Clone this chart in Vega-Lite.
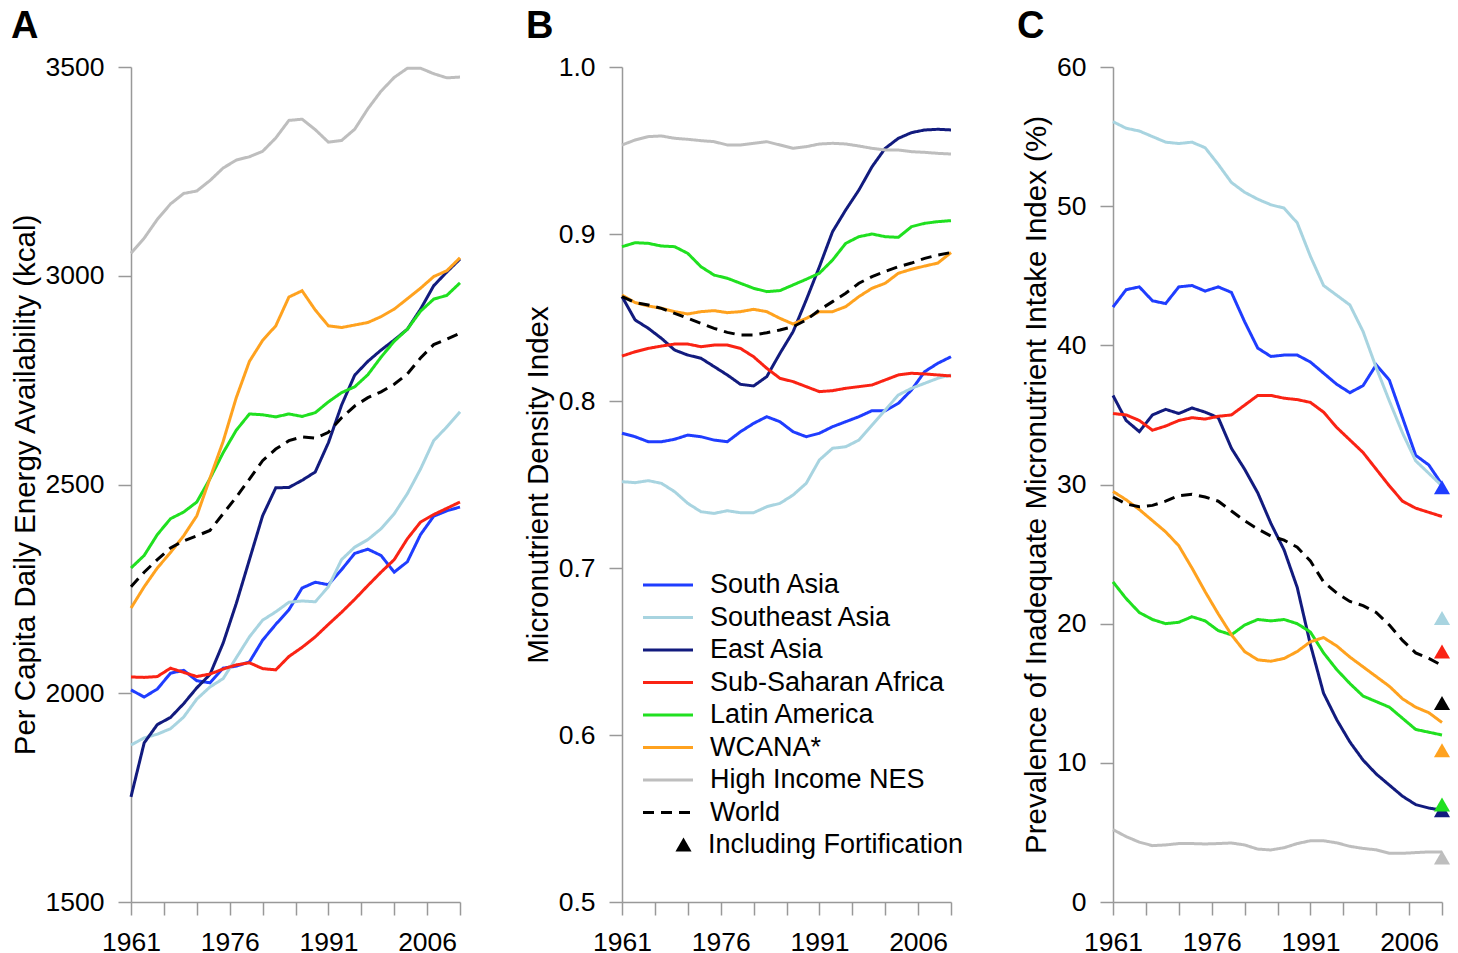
{
"$schema": "https://vega.github.io/schema/vega-lite/v6.json",
"background": "white",
"padding": {"left": 10, "top": 8, "right": 5, "bottom": 0},
"config": {
  "font": "Liberation Sans",
  "view": {"stroke": null},
  "axis": {"grid": false, "domainColor": "#999999", "domainWidth": 1.5, "tickColor": "#999999", "tickWidth": 1.5, "tickSize": 13, "labelFontSize": 26.5, "labelColor": "#000000", "labelFont": "Liberation Sans", "titleFont": "Liberation Sans", "titleFontSize": 29.5, "titleFontWeight": "normal", "titleColor": "#000000", "labelOverlap": false, "labelFlush": false},
  "axisX": {"labelPadding": 14, "labelOverlap": false},
  "axisY": {"labelPadding": 14, "titlePadding": 5},
  "legend": {"labelFont": "Liberation Sans", "labelColor": "#000000"},
  "title": {"anchor": "start", "frame": "group", "fontSize": 38, "fontWeight": "bold", "color": "#000000", "offset": 8, "font": "Liberation Sans"}
},
"datasets": {
"energy": [
{"year":1961,"region":"South Asia","value":2008},{"year":1963,"region":"South Asia","value":1991},{"year":1965,"region":"South Asia","value":2010},{"year":1967,"region":"South Asia","value":2048},{"year":1969,"region":"South Asia","value":2055},{"year":1971,"region":"South Asia","value":2030},{"year":1973,"region":"South Asia","value":2025},{"year":1975,"region":"South Asia","value":2060},{"year":1977,"region":"South Asia","value":2065},{"year":1979,"region":"South Asia","value":2075},{"year":1981,"region":"South Asia","value":2127},{"year":1983,"region":"South Asia","value":2165},{"year":1985,"region":"South Asia","value":2200},{"year":1987,"region":"South Asia","value":2252},{"year":1989,"region":"South Asia","value":2266},{"year":1991,"region":"South Asia","value":2260},{"year":1993,"region":"South Asia","value":2296},{"year":1995,"region":"South Asia","value":2335},{"year":1997,"region":"South Asia","value":2345},{"year":1999,"region":"South Asia","value":2330},{"year":2001,"region":"South Asia","value":2290},{"year":2003,"region":"South Asia","value":2315},{"year":2005,"region":"South Asia","value":2380},{"year":2007,"region":"South Asia","value":2424},{"year":2009,"region":"South Asia","value":2437},{"year":2011,"region":"South Asia","value":2446},
{"year":1961,"region":"Southeast Asia","value":1876},{"year":1963,"region":"Southeast Asia","value":1893},{"year":1965,"region":"Southeast Asia","value":1902},{"year":1967,"region":"Southeast Asia","value":1915},{"year":1969,"region":"Southeast Asia","value":1943},{"year":1971,"region":"Southeast Asia","value":1986},{"year":1973,"region":"Southeast Asia","value":2015},{"year":1975,"region":"Southeast Asia","value":2035},{"year":1977,"region":"Southeast Asia","value":2085},{"year":1979,"region":"Southeast Asia","value":2135},{"year":1981,"region":"Southeast Asia","value":2175},{"year":1983,"region":"Southeast Asia","value":2195},{"year":1985,"region":"Southeast Asia","value":2218},{"year":1987,"region":"Southeast Asia","value":2221},{"year":1989,"region":"Southeast Asia","value":2219},{"year":1991,"region":"Southeast Asia","value":2255},{"year":1993,"region":"Southeast Asia","value":2320},{"year":1995,"region":"Southeast Asia","value":2350},{"year":1997,"region":"Southeast Asia","value":2368},{"year":1999,"region":"Southeast Asia","value":2394},{"year":2001,"region":"Southeast Asia","value":2430},{"year":2003,"region":"Southeast Asia","value":2478},{"year":2005,"region":"Southeast Asia","value":2537},{"year":2007,"region":"Southeast Asia","value":2605},{"year":2009,"region":"Southeast Asia","value":2638},{"year":2011,"region":"Southeast Asia","value":2674},
{"year":1961,"region":"East Asia","value":1752},{"year":1963,"region":"East Asia","value":1881},{"year":1965,"region":"East Asia","value":1925},{"year":1967,"region":"East Asia","value":1942},{"year":1969,"region":"East Asia","value":1975},{"year":1971,"region":"East Asia","value":2013},{"year":1973,"region":"East Asia","value":2045},{"year":1975,"region":"East Asia","value":2120},{"year":1977,"region":"East Asia","value":2215},{"year":1979,"region":"East Asia","value":2320},{"year":1981,"region":"East Asia","value":2425},{"year":1983,"region":"East Asia","value":2492},{"year":1985,"region":"East Asia","value":2493},{"year":1987,"region":"East Asia","value":2510},{"year":1989,"region":"East Asia","value":2530},{"year":1991,"region":"East Asia","value":2600},{"year":1993,"region":"East Asia","value":2690},{"year":1995,"region":"East Asia","value":2762},{"year":1997,"region":"East Asia","value":2795},{"year":1999,"region":"East Asia","value":2822},{"year":2001,"region":"East Asia","value":2846},{"year":2003,"region":"East Asia","value":2872},{"year":2005,"region":"East Asia","value":2920},{"year":2007,"region":"East Asia","value":2976},{"year":2009,"region":"East Asia","value":3009},{"year":2011,"region":"East Asia","value":3040},
{"year":1961,"region":"Sub-Saharan Africa","value":2039},{"year":1963,"region":"Sub-Saharan Africa","value":2038},{"year":1965,"region":"Sub-Saharan Africa","value":2040},{"year":1967,"region":"Sub-Saharan Africa","value":2060},{"year":1969,"region":"Sub-Saharan Africa","value":2050},{"year":1971,"region":"Sub-Saharan Africa","value":2040},{"year":1973,"region":"Sub-Saharan Africa","value":2046},{"year":1975,"region":"Sub-Saharan Africa","value":2058},{"year":1977,"region":"Sub-Saharan Africa","value":2068},{"year":1979,"region":"Sub-Saharan Africa","value":2073},{"year":1981,"region":"Sub-Saharan Africa","value":2059},{"year":1983,"region":"Sub-Saharan Africa","value":2056},{"year":1985,"region":"Sub-Saharan Africa","value":2088},{"year":1987,"region":"Sub-Saharan Africa","value":2110},{"year":1989,"region":"Sub-Saharan Africa","value":2135},{"year":1991,"region":"Sub-Saharan Africa","value":2165},{"year":1993,"region":"Sub-Saharan Africa","value":2194},{"year":1995,"region":"Sub-Saharan Africa","value":2225},{"year":1997,"region":"Sub-Saharan Africa","value":2258},{"year":1999,"region":"Sub-Saharan Africa","value":2290},{"year":2001,"region":"Sub-Saharan Africa","value":2320},{"year":2003,"region":"Sub-Saharan Africa","value":2370},{"year":2005,"region":"Sub-Saharan Africa","value":2410},{"year":2007,"region":"Sub-Saharan Africa","value":2428},{"year":2009,"region":"Sub-Saharan Africa","value":2443},{"year":2011,"region":"Sub-Saharan Africa","value":2458},
{"year":1961,"region":"Latin America","value":2300},{"year":1963,"region":"Latin America","value":2330},{"year":1965,"region":"Latin America","value":2380},{"year":1967,"region":"Latin America","value":2418},{"year":1969,"region":"Latin America","value":2434},{"year":1971,"region":"Latin America","value":2458},{"year":1973,"region":"Latin America","value":2514},{"year":1975,"region":"Latin America","value":2576},{"year":1977,"region":"Latin America","value":2630},{"year":1979,"region":"Latin America","value":2669},{"year":1981,"region":"Latin America","value":2667},{"year":1983,"region":"Latin America","value":2662},{"year":1985,"region":"Latin America","value":2669},{"year":1987,"region":"Latin America","value":2663},{"year":1989,"region":"Latin America","value":2672},{"year":1991,"region":"Latin America","value":2698},{"year":1993,"region":"Latin America","value":2720},{"year":1995,"region":"Latin America","value":2734},{"year":1997,"region":"Latin America","value":2763},{"year":1999,"region":"Latin America","value":2805},{"year":2001,"region":"Latin America","value":2843},{"year":2003,"region":"Latin America","value":2872},{"year":2005,"region":"Latin America","value":2915},{"year":2007,"region":"Latin America","value":2944},{"year":2009,"region":"Latin America","value":2953},{"year":2011,"region":"Latin America","value":2983},
{"year":1961,"region":"WCANA*","value":2204},{"year":1963,"region":"WCANA*","value":2255},{"year":1965,"region":"WCANA*","value":2300},{"year":1967,"region":"WCANA*","value":2337},{"year":1969,"region":"WCANA*","value":2377},{"year":1971,"region":"WCANA*","value":2425},{"year":1973,"region":"WCANA*","value":2515},{"year":1975,"region":"WCANA*","value":2603},{"year":1977,"region":"WCANA*","value":2708},{"year":1979,"region":"WCANA*","value":2795},{"year":1981,"region":"WCANA*","value":2845},{"year":1983,"region":"WCANA*","value":2880},{"year":1985,"region":"WCANA*","value":2949},{"year":1987,"region":"WCANA*","value":2964},{"year":1989,"region":"WCANA*","value":2918},{"year":1991,"region":"WCANA*","value":2880},{"year":1993,"region":"WCANA*","value":2876},{"year":1995,"region":"WCANA*","value":2882},{"year":1997,"region":"WCANA*","value":2888},{"year":1999,"region":"WCANA*","value":2902},{"year":2001,"region":"WCANA*","value":2920},{"year":2003,"region":"WCANA*","value":2945},{"year":2005,"region":"WCANA*","value":2970},{"year":2007,"region":"WCANA*","value":2998},{"year":2009,"region":"WCANA*","value":3012},{"year":2011,"region":"WCANA*","value":3043},
{"year":1961,"region":"High Income NES","value":3054},{"year":1963,"region":"High Income NES","value":3090},{"year":1965,"region":"High Income NES","value":3135},{"year":1967,"region":"High Income NES","value":3172},{"year":1969,"region":"High Income NES","value":3197},{"year":1971,"region":"High Income NES","value":3203},{"year":1973,"region":"High Income NES","value":3228},{"year":1975,"region":"High Income NES","value":3258},{"year":1977,"region":"High Income NES","value":3277},{"year":1979,"region":"High Income NES","value":3285},{"year":1981,"region":"High Income NES","value":3298},{"year":1983,"region":"High Income NES","value":3330},{"year":1985,"region":"High Income NES","value":3372},{"year":1987,"region":"High Income NES","value":3375},{"year":1989,"region":"High Income NES","value":3350},{"year":1991,"region":"High Income NES","value":3320},{"year":1993,"region":"High Income NES","value":3324},{"year":1995,"region":"High Income NES","value":3351},{"year":1997,"region":"High Income NES","value":3400},{"year":1999,"region":"High Income NES","value":3442},{"year":2001,"region":"High Income NES","value":3475},{"year":2003,"region":"High Income NES","value":3497},{"year":2005,"region":"High Income NES","value":3497},{"year":2007,"region":"High Income NES","value":3484},{"year":2009,"region":"High Income NES","value":3474},{"year":2011,"region":"High Income NES","value":3476},
{"year":1961,"region":"World","value":2255},{"year":1963,"region":"World","value":2290},{"year":1965,"region":"World","value":2320},{"year":1967,"region":"World","value":2348},{"year":1969,"region":"World","value":2365},{"year":1971,"region":"World","value":2377},{"year":1973,"region":"World","value":2390},{"year":1975,"region":"World","value":2430},{"year":1977,"region":"World","value":2470},{"year":1979,"region":"World","value":2513},{"year":1981,"region":"World","value":2557},{"year":1983,"region":"World","value":2585},{"year":1985,"region":"World","value":2605},{"year":1987,"region":"World","value":2614},{"year":1989,"region":"World","value":2611},{"year":1991,"region":"World","value":2625},{"year":1993,"region":"World","value":2660},{"year":1995,"region":"World","value":2688},{"year":1997,"region":"World","value":2708},{"year":1999,"region":"World","value":2722},{"year":2001,"region":"World","value":2740},{"year":2003,"region":"World","value":2765},{"year":2005,"region":"World","value":2803},{"year":2007,"region":"World","value":2835},{"year":2009,"region":"World","value":2848},{"year":2011,"region":"World","value":2862}
],
"density": [
{"year":1961,"region":"South Asia","value":0.7807},{"year":1963,"region":"South Asia","value":0.7786},{"year":1965,"region":"South Asia","value":0.7756},{"year":1967,"region":"South Asia","value":0.7756},{"year":1969,"region":"South Asia","value":0.7771},{"year":1971,"region":"South Asia","value":0.7796},{"year":1973,"region":"South Asia","value":0.7786},{"year":1975,"region":"South Asia","value":0.7766},{"year":1977,"region":"South Asia","value":0.7756},{"year":1979,"region":"South Asia","value":0.7816},{"year":1981,"region":"South Asia","value":0.7866},{"year":1983,"region":"South Asia","value":0.7906},{"year":1985,"region":"South Asia","value":0.7876},{"year":1987,"region":"South Asia","value":0.7816},{"year":1989,"region":"South Asia","value":0.7786},{"year":1991,"region":"South Asia","value":0.7807},{"year":1993,"region":"South Asia","value":0.7846},{"year":1995,"region":"South Asia","value":0.7876},{"year":1997,"region":"South Asia","value":0.7906},{"year":1999,"region":"South Asia","value":0.7942},{"year":2001,"region":"South Asia","value":0.7942},{"year":2003,"region":"South Asia","value":0.7986},{"year":2005,"region":"South Asia","value":0.8066},{"year":2007,"region":"South Asia","value":0.8176},{"year":2009,"region":"South Asia","value":0.8226},{"year":2011,"region":"South Asia","value":0.8265},
{"year":1961,"region":"Southeast Asia","value":0.7517},{"year":1963,"region":"Southeast Asia","value":0.7511},{"year":1965,"region":"Southeast Asia","value":0.7523},{"year":1967,"region":"Southeast Asia","value":0.7507},{"year":1969,"region":"Southeast Asia","value":0.7457},{"year":1971,"region":"Southeast Asia","value":0.7387},{"year":1973,"region":"Southeast Asia","value":0.7337},{"year":1975,"region":"Southeast Asia","value":0.7327},{"year":1977,"region":"Southeast Asia","value":0.7343},{"year":1979,"region":"Southeast Asia","value":0.7331},{"year":1981,"region":"Southeast Asia","value":0.7331},{"year":1983,"region":"Southeast Asia","value":0.7367},{"year":1985,"region":"Southeast Asia","value":0.7387},{"year":1987,"region":"Southeast Asia","value":0.7437},{"year":1989,"region":"Southeast Asia","value":0.7507},{"year":1991,"region":"Southeast Asia","value":0.7647},{"year":1993,"region":"Southeast Asia","value":0.7717},{"year":1995,"region":"Southeast Asia","value":0.7726},{"year":1997,"region":"Southeast Asia","value":0.7766},{"year":1999,"region":"Southeast Asia","value":0.7856},{"year":2001,"region":"Southeast Asia","value":0.7946},{"year":2003,"region":"Southeast Asia","value":0.8036},{"year":2005,"region":"Southeast Asia","value":0.8076},{"year":2007,"region":"Southeast Asia","value":0.8106},{"year":2009,"region":"Southeast Asia","value":0.8136},{"year":2011,"region":"Southeast Asia","value":0.8156},
{"year":1961,"region":"East Asia","value":0.8625},{"year":1963,"region":"East Asia","value":0.8485},{"year":1965,"region":"East Asia","value":0.8435},{"year":1967,"region":"East Asia","value":0.8375},{"year":1969,"region":"East Asia","value":0.8305},{"year":1971,"region":"East Asia","value":0.8275},{"year":1973,"region":"East Asia","value":0.8256},{"year":1975,"region":"East Asia","value":0.8206},{"year":1977,"region":"East Asia","value":0.8156},{"year":1979,"region":"East Asia","value":0.8100},{"year":1981,"region":"East Asia","value":0.8090},{"year":1983,"region":"East Asia","value":0.8146},{"year":1985,"region":"East Asia","value":0.8285},{"year":1987,"region":"East Asia","value":0.8415},{"year":1989,"region":"East Asia","value":0.8605},{"year":1991,"region":"East Asia","value":0.8804},{"year":1993,"region":"East Asia","value":0.9014},{"year":1995,"region":"East Asia","value":0.9144},{"year":1997,"region":"East Asia","value":0.9263},{"year":1999,"region":"East Asia","value":0.9403},{"year":2001,"region":"East Asia","value":0.9513},{"year":2003,"region":"East Asia","value":0.9573},{"year":2005,"region":"East Asia","value":0.9607},{"year":2007,"region":"East Asia","value":0.9623},{"year":2009,"region":"East Asia","value":0.9627},{"year":2011,"region":"East Asia","value":0.9623},
{"year":1961,"region":"Sub-Saharan Africa","value":0.8269},{"year":1963,"region":"Sub-Saharan Africa","value":0.8295},{"year":1965,"region":"Sub-Saharan Africa","value":0.8315},{"year":1967,"region":"Sub-Saharan Africa","value":0.8329},{"year":1969,"region":"Sub-Saharan Africa","value":0.8341},{"year":1971,"region":"Sub-Saharan Africa","value":0.8341},{"year":1973,"region":"Sub-Saharan Africa","value":0.8325},{"year":1975,"region":"Sub-Saharan Africa","value":0.8335},{"year":1977,"region":"Sub-Saharan Africa","value":0.8335},{"year":1979,"region":"Sub-Saharan Africa","value":0.8315},{"year":1981,"region":"Sub-Saharan Africa","value":0.8265},{"year":1983,"region":"Sub-Saharan Africa","value":0.8196},{"year":1985,"region":"Sub-Saharan Africa","value":0.8136},{"year":1987,"region":"Sub-Saharan Africa","value":0.8116},{"year":1989,"region":"Sub-Saharan Africa","value":0.8086},{"year":1991,"region":"Sub-Saharan Africa","value":0.8056},{"year":1993,"region":"Sub-Saharan Africa","value":0.8062},{"year":1995,"region":"Sub-Saharan Africa","value":0.8076},{"year":1997,"region":"Sub-Saharan Africa","value":0.8086},{"year":1999,"region":"Sub-Saharan Africa","value":0.8096},{"year":2001,"region":"Sub-Saharan Africa","value":0.8126},{"year":2003,"region":"Sub-Saharan Africa","value":0.8156},{"year":2005,"region":"Sub-Saharan Africa","value":0.8166},{"year":2007,"region":"Sub-Saharan Africa","value":0.8162},{"year":2009,"region":"Sub-Saharan Africa","value":0.8156},{"year":2011,"region":"Sub-Saharan Africa","value":0.8150},
{"year":1961,"region":"Latin America","value":0.8924},{"year":1963,"region":"Latin America","value":0.8948},{"year":1965,"region":"Latin America","value":0.8944},{"year":1967,"region":"Latin America","value":0.8928},{"year":1969,"region":"Latin America","value":0.8924},{"year":1971,"region":"Latin America","value":0.8884},{"year":1973,"region":"Latin America","value":0.8804},{"year":1975,"region":"Latin America","value":0.8754},{"year":1977,"region":"Latin America","value":0.8735},{"year":1979,"region":"Latin America","value":0.8705},{"year":1981,"region":"Latin America","value":0.8675},{"year":1983,"region":"Latin America","value":0.8655},{"year":1985,"region":"Latin America","value":0.8661},{"year":1987,"region":"Latin America","value":0.8695},{"year":1989,"region":"Latin America","value":0.8729},{"year":1991,"region":"Latin America","value":0.8765},{"year":1993,"region":"Latin America","value":0.8844},{"year":1995,"region":"Latin America","value":0.8944},{"year":1997,"region":"Latin America","value":0.8984},{"year":1999,"region":"Latin America","value":0.9000},{"year":2001,"region":"Latin America","value":0.8984},{"year":2003,"region":"Latin America","value":0.8980},{"year":2005,"region":"Latin America","value":0.9044},{"year":2007,"region":"Latin America","value":0.9064},{"year":2009,"region":"Latin America","value":0.9074},{"year":2011,"region":"Latin America","value":0.9080},
{"year":1961,"region":"WCANA*","value":0.8635},{"year":1963,"region":"WCANA*","value":0.8589},{"year":1965,"region":"WCANA*","value":0.8569},{"year":1967,"region":"WCANA*","value":0.8555},{"year":1969,"region":"WCANA*","value":0.8535},{"year":1971,"region":"WCANA*","value":0.8521},{"year":1973,"region":"WCANA*","value":0.8535},{"year":1975,"region":"WCANA*","value":0.8541},{"year":1977,"region":"WCANA*","value":0.8529},{"year":1979,"region":"WCANA*","value":0.8535},{"year":1981,"region":"WCANA*","value":0.8549},{"year":1983,"region":"WCANA*","value":0.8535},{"year":1985,"region":"WCANA*","value":0.8495},{"year":1987,"region":"WCANA*","value":0.8461},{"year":1989,"region":"WCANA*","value":0.8495},{"year":1991,"region":"WCANA*","value":0.8535},{"year":1993,"region":"WCANA*","value":0.8535},{"year":1995,"region":"WCANA*","value":0.8565},{"year":1997,"region":"WCANA*","value":0.8625},{"year":1999,"region":"WCANA*","value":0.8675},{"year":2001,"region":"WCANA*","value":0.8705},{"year":2003,"region":"WCANA*","value":0.8765},{"year":2005,"region":"WCANA*","value":0.8789},{"year":2007,"region":"WCANA*","value":0.8808},{"year":2009,"region":"WCANA*","value":0.8826},{"year":2011,"region":"WCANA*","value":0.8889},
{"year":1961,"region":"High Income NES","value":0.9533},{"year":1963,"region":"High Income NES","value":0.9563},{"year":1965,"region":"High Income NES","value":0.9583},{"year":1967,"region":"High Income NES","value":0.9587},{"year":1969,"region":"High Income NES","value":0.9573},{"year":1971,"region":"High Income NES","value":0.9567},{"year":1973,"region":"High Income NES","value":0.9559},{"year":1975,"region":"High Income NES","value":0.9553},{"year":1977,"region":"High Income NES","value":0.9533},{"year":1979,"region":"High Income NES","value":0.9533},{"year":1981,"region":"High Income NES","value":0.9543},{"year":1983,"region":"High Income NES","value":0.9553},{"year":1985,"region":"High Income NES","value":0.9533},{"year":1987,"region":"High Income NES","value":0.9513},{"year":1989,"region":"High Income NES","value":0.9523},{"year":1991,"region":"High Income NES","value":0.9539},{"year":1993,"region":"High Income NES","value":0.9543},{"year":1995,"region":"High Income NES","value":0.9539},{"year":1997,"region":"High Income NES","value":0.9527},{"year":1999,"region":"High Income NES","value":0.9513},{"year":2001,"region":"High Income NES","value":0.9503},{"year":2003,"region":"High Income NES","value":0.9503},{"year":2005,"region":"High Income NES","value":0.9493},{"year":2007,"region":"High Income NES","value":0.9489},{"year":2009,"region":"High Income NES","value":0.9483},{"year":2011,"region":"High Income NES","value":0.9479},
{"year":1961,"region":"World","value":0.8625},{"year":1963,"region":"World","value":0.8589},{"year":1965,"region":"World","value":0.8575},{"year":1967,"region":"World","value":0.8555},{"year":1969,"region":"World","value":0.8525},{"year":1971,"region":"World","value":0.8495},{"year":1973,"region":"World","value":0.8465},{"year":1975,"region":"World","value":0.8435},{"year":1977,"region":"World","value":0.8411},{"year":1979,"region":"World","value":0.8395},{"year":1981,"region":"World","value":0.8395},{"year":1983,"region":"World","value":0.8409},{"year":1985,"region":"World","value":0.8425},{"year":1987,"region":"World","value":0.8445},{"year":1989,"region":"World","value":0.8485},{"year":1991,"region":"World","value":0.8545},{"year":1993,"region":"World","value":0.8595},{"year":1995,"region":"World","value":0.8645},{"year":1997,"region":"World","value":0.8705},{"year":1999,"region":"World","value":0.8745},{"year":2001,"region":"World","value":0.8776},{"year":2003,"region":"World","value":0.8804},{"year":2005,"region":"World","value":0.8826},{"year":2007,"region":"World","value":0.8854},{"year":2009,"region":"World","value":0.8874},{"year":2011,"region":"World","value":0.8889}
],
"prevalence": [
{"year":1961,"region":"South Asia","value":42.75},{"year":1963,"region":"South Asia","value":44.0},{"year":1965,"region":"South Asia","value":44.2},{"year":1967,"region":"South Asia","value":43.2},{"year":1969,"region":"South Asia","value":43.0},{"year":1971,"region":"South Asia","value":44.2},{"year":1973,"region":"South Asia","value":44.3},{"year":1975,"region":"South Asia","value":43.9},{"year":1977,"region":"South Asia","value":44.2},{"year":1979,"region":"South Asia","value":43.8},{"year":1981,"region":"South Asia","value":41.7},{"year":1983,"region":"South Asia","value":39.8},{"year":1985,"region":"South Asia","value":39.2},{"year":1987,"region":"South Asia","value":39.3},{"year":1989,"region":"South Asia","value":39.3},{"year":1991,"region":"South Asia","value":38.8},{"year":1993,"region":"South Asia","value":38.0},{"year":1995,"region":"South Asia","value":37.2},{"year":1997,"region":"South Asia","value":36.6},{"year":1999,"region":"South Asia","value":37.1},{"year":2001,"region":"South Asia","value":38.6},{"year":2003,"region":"South Asia","value":37.5},{"year":2005,"region":"South Asia","value":34.8},{"year":2007,"region":"South Asia","value":32.1},{"year":2009,"region":"South Asia","value":31.4},{"year":2011,"region":"South Asia","value":30.0},
{"year":1961,"region":"Southeast Asia","value":56.07},{"year":1963,"region":"Southeast Asia","value":55.6},{"year":1965,"region":"Southeast Asia","value":55.4},{"year":1967,"region":"Southeast Asia","value":55.0},{"year":1969,"region":"Southeast Asia","value":54.6},{"year":1971,"region":"Southeast Asia","value":54.5},{"year":1973,"region":"Southeast Asia","value":54.6},{"year":1975,"region":"Southeast Asia","value":54.2},{"year":1977,"region":"Southeast Asia","value":53.0},{"year":1979,"region":"Southeast Asia","value":51.7},{"year":1981,"region":"Southeast Asia","value":51.0},{"year":1983,"region":"Southeast Asia","value":50.5},{"year":1985,"region":"Southeast Asia","value":50.1},{"year":1987,"region":"Southeast Asia","value":49.86},{"year":1989,"region":"Southeast Asia","value":48.8},{"year":1991,"region":"Southeast Asia","value":46.4},{"year":1993,"region":"Southeast Asia","value":44.3},{"year":1995,"region":"Southeast Asia","value":43.6},{"year":1997,"region":"Southeast Asia","value":42.9},{"year":1999,"region":"Southeast Asia","value":41.0},{"year":2001,"region":"Southeast Asia","value":38.4},{"year":2003,"region":"Southeast Asia","value":36.0},{"year":2005,"region":"Southeast Asia","value":33.7},{"year":2007,"region":"Southeast Asia","value":31.7},{"year":2009,"region":"Southeast Asia","value":30.8},{"year":2011,"region":"Southeast Asia","value":29.9},
{"year":1961,"region":"East Asia","value":36.4},{"year":1963,"region":"East Asia","value":34.6},{"year":1965,"region":"East Asia","value":33.8},{"year":1967,"region":"East Asia","value":35.0},{"year":1969,"region":"East Asia","value":35.4},{"year":1971,"region":"East Asia","value":35.1},{"year":1973,"region":"East Asia","value":35.5},{"year":1975,"region":"East Asia","value":35.2},{"year":1977,"region":"East Asia","value":34.8},{"year":1979,"region":"East Asia","value":32.6},{"year":1981,"region":"East Asia","value":31.1},{"year":1983,"region":"East Asia","value":29.4},{"year":1985,"region":"East Asia","value":27.2},{"year":1987,"region":"East Asia","value":25.3},{"year":1989,"region":"East Asia","value":22.6},{"year":1991,"region":"East Asia","value":18.5},{"year":1993,"region":"East Asia","value":15.0},{"year":1995,"region":"East Asia","value":13.1},{"year":1997,"region":"East Asia","value":11.5},{"year":1999,"region":"East Asia","value":10.2},{"year":2001,"region":"East Asia","value":9.2},{"year":2003,"region":"East Asia","value":8.4},{"year":2005,"region":"East Asia","value":7.6},{"year":2007,"region":"East Asia","value":7.0},{"year":2009,"region":"East Asia","value":6.75},{"year":2011,"region":"East Asia","value":6.6},
{"year":1961,"region":"Sub-Saharan Africa","value":35.1},{"year":1963,"region":"Sub-Saharan Africa","value":35.0},{"year":1965,"region":"Sub-Saharan Africa","value":34.6},{"year":1967,"region":"Sub-Saharan Africa","value":33.9},{"year":1969,"region":"Sub-Saharan Africa","value":34.2},{"year":1971,"region":"Sub-Saharan Africa","value":34.6},{"year":1973,"region":"Sub-Saharan Africa","value":34.8},{"year":1975,"region":"Sub-Saharan Africa","value":34.7},{"year":1977,"region":"Sub-Saharan Africa","value":34.9},{"year":1979,"region":"Sub-Saharan Africa","value":35.0},{"year":1981,"region":"Sub-Saharan Africa","value":35.7},{"year":1983,"region":"Sub-Saharan Africa","value":36.4},{"year":1985,"region":"Sub-Saharan Africa","value":36.4},{"year":1987,"region":"Sub-Saharan Africa","value":36.2},{"year":1989,"region":"Sub-Saharan Africa","value":36.1},{"year":1991,"region":"Sub-Saharan Africa","value":35.9},{"year":1993,"region":"Sub-Saharan Africa","value":35.2},{"year":1995,"region":"Sub-Saharan Africa","value":34.1},{"year":1997,"region":"Sub-Saharan Africa","value":33.2},{"year":1999,"region":"Sub-Saharan Africa","value":32.3},{"year":2001,"region":"Sub-Saharan Africa","value":31.1},{"year":2003,"region":"Sub-Saharan Africa","value":29.9},{"year":2005,"region":"Sub-Saharan Africa","value":28.8},{"year":2007,"region":"Sub-Saharan Africa","value":28.3},{"year":2009,"region":"Sub-Saharan Africa","value":28.0},{"year":2011,"region":"Sub-Saharan Africa","value":27.7},
{"year":1961,"region":"Latin America","value":23.0},{"year":1963,"region":"Latin America","value":21.8},{"year":1965,"region":"Latin America","value":20.8},{"year":1967,"region":"Latin America","value":20.3},{"year":1969,"region":"Latin America","value":20.0},{"year":1971,"region":"Latin America","value":20.1},{"year":1973,"region":"Latin America","value":20.5},{"year":1975,"region":"Latin America","value":20.2},{"year":1977,"region":"Latin America","value":19.5},{"year":1979,"region":"Latin America","value":19.2},{"year":1981,"region":"Latin America","value":19.9},{"year":1983,"region":"Latin America","value":20.3},{"year":1985,"region":"Latin America","value":20.2},{"year":1987,"region":"Latin America","value":20.3},{"year":1989,"region":"Latin America","value":20.0},{"year":1991,"region":"Latin America","value":19.4},{"year":1993,"region":"Latin America","value":17.9},{"year":1995,"region":"Latin America","value":16.7},{"year":1997,"region":"Latin America","value":15.7},{"year":1999,"region":"Latin America","value":14.8},{"year":2001,"region":"Latin America","value":14.4},{"year":2003,"region":"Latin America","value":14.0},{"year":2005,"region":"Latin America","value":13.2},{"year":2007,"region":"Latin America","value":12.4},{"year":2009,"region":"Latin America","value":12.2},{"year":2011,"region":"Latin America","value":12.0},
{"year":1961,"region":"WCANA*","value":29.5},{"year":1963,"region":"WCANA*","value":28.9},{"year":1965,"region":"WCANA*","value":28.2},{"year":1967,"region":"WCANA*","value":27.4},{"year":1969,"region":"WCANA*","value":26.6},{"year":1971,"region":"WCANA*","value":25.6},{"year":1973,"region":"WCANA*","value":24.0},{"year":1975,"region":"WCANA*","value":22.3},{"year":1977,"region":"WCANA*","value":20.7},{"year":1979,"region":"WCANA*","value":19.2},{"year":1981,"region":"WCANA*","value":18.0},{"year":1983,"region":"WCANA*","value":17.4},{"year":1985,"region":"WCANA*","value":17.3},{"year":1987,"region":"WCANA*","value":17.5},{"year":1989,"region":"WCANA*","value":18.0},{"year":1991,"region":"WCANA*","value":18.7},{"year":1993,"region":"WCANA*","value":19.0},{"year":1995,"region":"WCANA*","value":18.4},{"year":1997,"region":"WCANA*","value":17.6},{"year":1999,"region":"WCANA*","value":16.9},{"year":2001,"region":"WCANA*","value":16.2},{"year":2003,"region":"WCANA*","value":15.5},{"year":2005,"region":"WCANA*","value":14.6},{"year":2007,"region":"WCANA*","value":14.0},{"year":2009,"region":"WCANA*","value":13.6},{"year":2011,"region":"WCANA*","value":12.9},
{"year":1961,"region":"High Income NES","value":5.2},{"year":1963,"region":"High Income NES","value":4.7},{"year":1965,"region":"High Income NES","value":4.3},{"year":1967,"region":"High Income NES","value":4.05},{"year":1969,"region":"High Income NES","value":4.1},{"year":1971,"region":"High Income NES","value":4.2},{"year":1973,"region":"High Income NES","value":4.2},{"year":1975,"region":"High Income NES","value":4.17},{"year":1977,"region":"High Income NES","value":4.2},{"year":1979,"region":"High Income NES","value":4.24},{"year":1981,"region":"High Income NES","value":4.1},{"year":1983,"region":"High Income NES","value":3.8},{"year":1985,"region":"High Income NES","value":3.74},{"year":1987,"region":"High Income NES","value":3.9},{"year":1989,"region":"High Income NES","value":4.2},{"year":1991,"region":"High Income NES","value":4.4},{"year":1993,"region":"High Income NES","value":4.4},{"year":1995,"region":"High Income NES","value":4.25},{"year":1997,"region":"High Income NES","value":4.0},{"year":1999,"region":"High Income NES","value":3.85},{"year":2001,"region":"High Income NES","value":3.75},{"year":2003,"region":"High Income NES","value":3.5},{"year":2005,"region":"High Income NES","value":3.5},{"year":2007,"region":"High Income NES","value":3.55},{"year":2009,"region":"High Income NES","value":3.6},{"year":2011,"region":"High Income NES","value":3.6},
{"year":1961,"region":"World","value":29.1},{"year":1963,"region":"World","value":28.6},{"year":1965,"region":"World","value":28.4},{"year":1967,"region":"World","value":28.5},{"year":1969,"region":"World","value":28.8},{"year":1971,"region":"World","value":29.2},{"year":1973,"region":"World","value":29.3},{"year":1975,"region":"World","value":29.1},{"year":1977,"region":"World","value":28.8},{"year":1979,"region":"World","value":28.1},{"year":1981,"region":"World","value":27.4},{"year":1983,"region":"World","value":26.8},{"year":1985,"region":"World","value":26.3},{"year":1987,"region":"World","value":26.0},{"year":1989,"region":"World","value":25.5},{"year":1991,"region":"World","value":24.5},{"year":1993,"region":"World","value":23.0},{"year":1995,"region":"World","value":22.2},{"year":1997,"region":"World","value":21.6},{"year":1999,"region":"World","value":21.3},{"year":2001,"region":"World","value":20.8},{"year":2003,"region":"World","value":19.9},{"year":2005,"region":"World","value":18.8},{"year":2007,"region":"World","value":17.9},{"year":2009,"region":"World","value":17.5},{"year":2011,"region":"World","value":17.0}
],
"fortified": [
{"year":2011,"region":"South Asia","value":29.8,"type":"Including Fortification"},
{"year":2011,"region":"Southeast Asia","value":20.4,"type":"Including Fortification"},
{"year":2011,"region":"East Asia","value":6.6,"type":"Including Fortification"},
{"year":2011,"region":"Sub-Saharan Africa","value":18.0,"type":"Including Fortification"},
{"year":2011,"region":"Latin America","value":7.0,"type":"Including Fortification"},
{"year":2011,"region":"WCANA*","value":10.9,"type":"Including Fortification"},
{"year":2011,"region":"High Income NES","value":3.2,"type":"Including Fortification"},
{"year":2011,"region":"World","value":14.3,"type":"Including Fortification"}
]
},
"spacing": 162,
"bounds": "flush",
"hconcat": [
{
  "width": 329, "height": 835,
  "title": {"text": "A", "dx": -120},
  "data": {"name": "energy"},
  "mark": {"type": "line", "strokeWidth": 3},
  "encoding": {
    "x": {"field": "year", "type": "quantitative", "scale": {"domain": [1961, 2011], "nice": false, "zero": false}, "axis": {"title": null, "values": [1961,1966,1971,1976,1981,1986,1991,1996,2001,2006,2011], "format": "d", "labelOverlap": false, "labelExpr": "(datum.value-1961)%15==0 ? datum.label : ''"}},
    "y": {"field": "value", "type": "quantitative", "scale": {"domain": [1500, 3500], "nice": false, "zero": false}, "axis": {"title": "Per Capita Daily Energy Availability (kcal)", "values": [1500,2000,2500,3000,3500], "format": "d"}},
    "color": {"field": "region", "type": "nominal", "scale": {"domain": ["South Asia","Southeast Asia","East Asia","Sub-Saharan Africa","Latin America","WCANA*","High Income NES","World"], "range": ["#1F3DFF","#A8D4E0","#121B7E","#FA2314","#20E020","#FFA21F","#BEBEBE","#000000"]}, "legend": {"title": null, "orient": "none", "legendX": 523.5, "legendY": 504.5, "symbolType": "M-2.5,0L2.5,0", "symbolSize": 400, "symbolStrokeWidth": 3, "labelOffset": 28.5, "rowPadding": 4.5, "labelFontSize": 27, "labelLimit": 500, "padding": 0, "symbolOpacity": 1}},
    "strokeDash": {"field": "region", "type": "nominal", "scale": {"domain": ["South Asia","Southeast Asia","East Asia","Sub-Saharan Africa","Latin America","WCANA*","High Income NES","World"], "range": [[1,0],[1,0],[1,0],[1,0],[1,0],[1,0],[1,0],[11,7]]}, "legend": {"title": null, "orient": "none", "legendX": 523.5, "legendY": 504.5, "symbolType": "M-2.5,0L2.5,0", "symbolSize": 400, "symbolStrokeWidth": 3, "labelOffset": 28.5, "rowPadding": 4.5, "labelFontSize": 27, "labelLimit": 500, "padding": 0, "symbolOpacity": 1}}
  }
},
{
  "width": 329, "height": 835,
  "title": {"text": "B", "dx": -96},
  "data": {"name": "density"},
  "mark": {"type": "line", "strokeWidth": 3},
  "encoding": {
    "x": {"field": "year", "type": "quantitative", "scale": {"domain": [1961, 2011], "nice": false, "zero": false}, "axis": {"title": null, "values": [1961,1966,1971,1976,1981,1986,1991,1996,2001,2006,2011], "format": "d", "labelOverlap": false, "labelExpr": "(datum.value-1961)%15==0 ? datum.label : ''"}},
    "y": {"field": "value", "type": "quantitative", "scale": {"domain": [0.5, 1.0], "nice": false, "zero": false}, "axis": {"title": "Micronutrient Density Index", "values": [0.5,0.6,0.7,0.8,0.9,1.0], "format": ".1f"}},
    "color": {"field": "region", "type": "nominal", "scale": {"domain": ["South Asia","Southeast Asia","East Asia","Sub-Saharan Africa","Latin America","WCANA*","High Income NES","World"], "range": ["#1F3DFF","#A8D4E0","#121B7E","#FA2314","#20E020","#FFA21F","#BEBEBE","#000000"]}, "legend": {"title": null, "orient": "none", "legendX": 523.5, "legendY": 504.5, "symbolType": "M-2.5,0L2.5,0", "symbolSize": 400, "symbolStrokeWidth": 3, "labelOffset": 28.5, "rowPadding": 4.5, "labelFontSize": 27, "labelLimit": 500, "padding": 0, "symbolOpacity": 1}},
    "strokeDash": {"field": "region", "type": "nominal", "scale": {"domain": ["South Asia","Southeast Asia","East Asia","Sub-Saharan Africa","Latin America","WCANA*","High Income NES","World"], "range": [[1,0],[1,0],[1,0],[1,0],[1,0],[1,0],[1,0],[11,7]]}, "legend": {"title": null, "orient": "none", "legendX": 523.5, "legendY": 504.5, "symbolType": "M-2.5,0L2.5,0", "symbolSize": 400, "symbolStrokeWidth": 3, "labelOffset": 28.5, "rowPadding": 4.5, "labelFontSize": 27, "labelLimit": 500, "padding": 0, "symbolOpacity": 1}}
  }
},
{
  "width": 329, "height": 835,
  "title": {"text": "C", "dx": -96},
  "layer": [
    {
      "data": {"name": "prevalence"},
      "mark": {"type": "line", "strokeWidth": 3},
      "encoding": {
        "x": {"field": "year", "type": "quantitative", "scale": {"domain": [1961, 2011], "nice": false, "zero": false}, "axis": {"title": null, "values": [1961,1966,1971,1976,1981,1986,1991,1996,2001,2006,2011], "format": "d", "labelOverlap": false, "labelExpr": "(datum.value-1961)%15==0 ? datum.label : ''"}},
        "y": {"field": "value", "type": "quantitative", "scale": {"domain": [0, 60], "nice": false, "zero": false}, "axis": {"title": "Prevalence of Inadequate Micronutrient Intake Index (%)", "values": [0,10,20,30,40,50,60], "format": "d"}},
        "color": {"field": "region", "type": "nominal", "scale": {"domain": ["South Asia","Southeast Asia","East Asia","Sub-Saharan Africa","Latin America","WCANA*","High Income NES","World"], "range": ["#1F3DFF","#A8D4E0","#121B7E","#FA2314","#20E020","#FFA21F","#BEBEBE","#000000"]}, "legend": {"title": null, "orient": "none", "legendX": 523.5, "legendY": 504.5, "symbolType": "M-2.5,0L2.5,0", "symbolSize": 400, "symbolStrokeWidth": 3, "labelOffset": 28.5, "rowPadding": 4.5, "labelFontSize": 27, "labelLimit": 500, "padding": 0, "symbolOpacity": 1}},
        "strokeDash": {"field": "region", "type": "nominal", "scale": {"domain": ["South Asia","Southeast Asia","East Asia","Sub-Saharan Africa","Latin America","WCANA*","High Income NES","World"], "range": [[1,0],[1,0],[1,0],[1,0],[1,0],[1,0],[1,0],[11,7]]}, "legend": {"title": null, "orient": "none", "legendX": 523.5, "legendY": 504.5, "symbolType": "M-2.5,0L2.5,0", "symbolSize": 400, "symbolStrokeWidth": 3, "labelOffset": 28.5, "rowPadding": 4.5, "labelFontSize": 27, "labelLimit": 500, "padding": 0, "symbolOpacity": 1}}
      }
    },
    {
      "data": {"name": "fortified"},
      "mark": {"type": "point", "filled": true, "size": 260, "opacity": 1, "strokeWidth": 0},
      "encoding": {
        "x": {"field": "year", "type": "quantitative", "scale": {"domain": [1961, 2011], "nice": false, "zero": false}, "axis": {"title": null, "values": [1961,1966,1971,1976,1981,1986,1991,1996,2001,2006,2011], "format": "d", "labelOverlap": false, "labelExpr": "(datum.value-1961)%15==0 ? datum.label : ''"}},
        "y": {"field": "value", "type": "quantitative", "scale": {"domain": [0, 60], "nice": false, "zero": false}},
        "color": {"field": "region", "type": "nominal", "scale": {"domain": ["South Asia","Southeast Asia","East Asia","Sub-Saharan Africa","Latin America","WCANA*","High Income NES","World"], "range": ["#1F3DFF","#A8D4E0","#121B7E","#FA2314","#20E020","#FFA21F","#BEBEBE","#000000"]}, "legend": {"title": null, "orient": "none", "legendX": 523.5, "legendY": 504.5, "symbolType": "M-2.5,0L2.5,0", "symbolSize": 400, "symbolStrokeWidth": 3, "labelOffset": 28.5, "rowPadding": 4.5, "labelFontSize": 27, "labelLimit": 500, "padding": 0, "symbolOpacity": 1}},
        "shape": {"field": "type", "type": "nominal", "scale": {"domain": ["Including Fortification"], "range": ["triangle-up"]}, "legend": {"title": null, "orient": "none", "legendX": 539, "legendY": 764, "symbolSize": 260, "symbolFillColor": "black", "symbolStrokeColor": "black", "symbolStrokeWidth": 0, "symbolOpacity": 1, "labelOffset": 11, "labelFontSize": 27, "labelLimit": 500, "padding": 0}}
      }
    }
  ]
}
]
}
